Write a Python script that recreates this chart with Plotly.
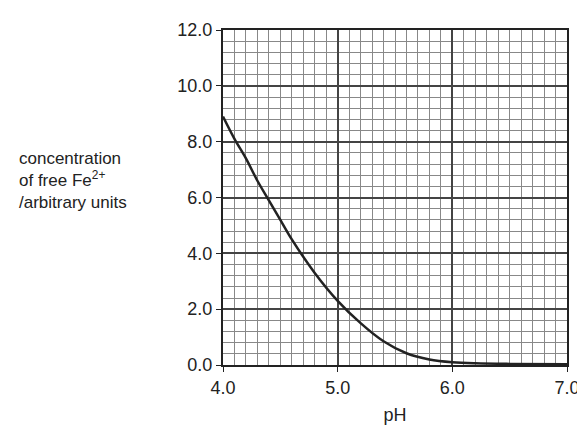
import plotly.graph_objects as go

ph = [4.0, 4.1, 4.2, 4.3, 4.4, 4.5, 4.6, 4.8, 5.0, 5.2, 5.4, 5.6, 5.8, 6.0, 6.2, 6.5, 7.0]
conc = [8.9, 8.1, 7.4, 6.6, 5.9, 5.2, 4.5, 3.3, 2.3, 1.5, 0.85, 0.42, 0.2, 0.1, 0.06, 0.04, 0.03]

fig = go.Figure()
fig.add_trace(go.Scatter(x=ph, y=conc, mode="lines", line=dict(color="#222", width=2.5, shape="spline"),
                         showlegend=False))

font = dict(family="Liberation Sans, Arial", size=18, color="#222")
fig.update_layout(
    width=585, height=431, margin=dict(l=215, r=26, t=15, b=74),
    plot_bgcolor="white", paper_bgcolor="white", font=font,
    xaxis=dict(range=[4, 7], dtick=1, tickformat=".1f", showgrid=True, gridcolor="#444", gridwidth=1.5,
               minor=dict(dtick=0.1, showgrid=True, gridcolor="#888", gridwidth=0.6),
               showline=True, linecolor="#222", linewidth=2, mirror=True, ticks="outside",
               ticklen=5, tickcolor="#222",
               title=dict(text="pH", font=font, standoff=12)),
    yaxis=dict(range=[0, 12], dtick=2, tickformat=".1f", showgrid=True, gridcolor="#444", gridwidth=1.5,
               minor=dict(dtick=0.4, showgrid=True, gridcolor="#888", gridwidth=0.6),
               showline=True, linecolor="#222", linewidth=2, mirror=True, ticks="outside",
               ticklen=5, tickcolor="#222"),
)
fig.add_annotation(text="concentration<br>of free Fe<sup>2+</sup><br>/arbitrary units", xref="paper", yref="paper",
                   x=-0.6, y=0.55, xanchor="left", yanchor="middle", showarrow=False, align="left",
                   font=dict(family="Liberation Sans, Arial", size=17, color="#222"))
fig.write_html("out.html")
